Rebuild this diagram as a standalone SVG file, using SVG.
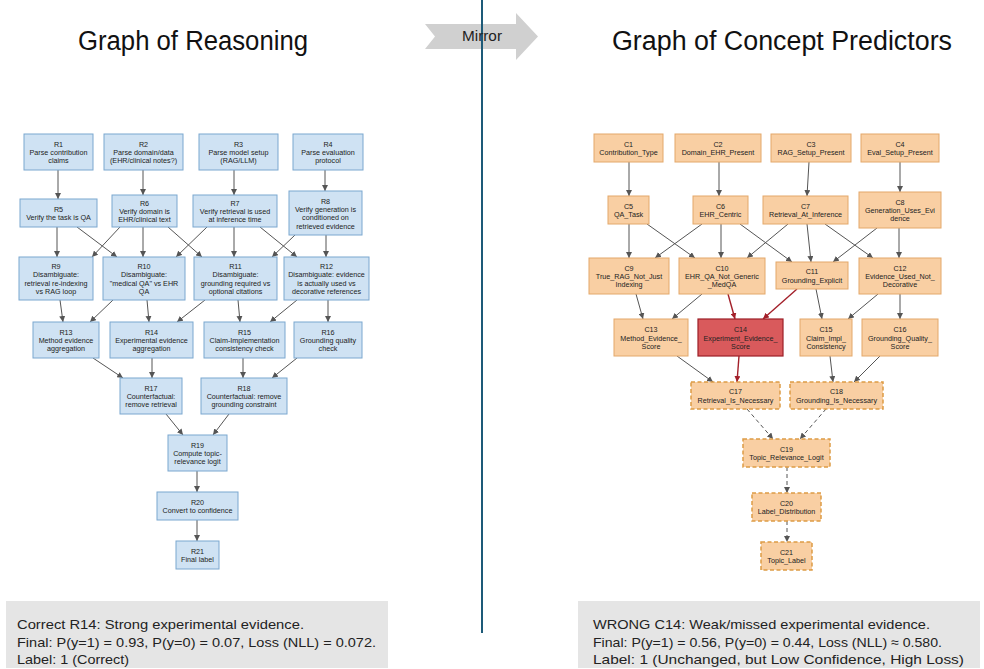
<svg xmlns="http://www.w3.org/2000/svg" width="984" height="669" viewBox="0 0 984 669">
<style>
.t{font-family:"Liberation Sans",Arial,sans-serif;font-size:7.2px;fill:#222;text-anchor:middle}
.rb{fill:#cfe2f3;stroke:#7ba7cf;stroke-width:1}
.cb{fill:#f9cfa3;stroke:#e3a86a;stroke-width:1}
.cd{fill:#f9cfa3;stroke:#dd9c45;stroke-width:1.5;stroke-dasharray:4 2.5}
.cr{fill:#d95a5c;stroke:#9c1f27;stroke-width:1.2}
.e{stroke:#555;stroke-width:1;fill:none;marker-end:url(#a)}
.ed{stroke:#555;stroke-width:1;fill:none;stroke-dasharray:4 3;marker-end:url(#a)}
.er{stroke:#a3202a;stroke-width:1.4;fill:none;marker-end:url(#ar)}
.title{font-family:"Liberation Sans",Arial,sans-serif;font-size:27px;fill:#111}
.note{font-family:"Liberation Sans",Arial,sans-serif;font-size:13.5px;fill:#222}
</style>
<defs>
<marker id="a" viewBox="0 0 6 6" refX="6" refY="3" markerWidth="6" markerHeight="6" markerUnits="userSpaceOnUse" orient="auto"><path d="M0,0 L6,3 L0,6 z" fill="#555"/></marker>
<marker id="ar" viewBox="0 0 6 6" refX="6" refY="3" markerWidth="6" markerHeight="6" markerUnits="userSpaceOnUse" orient="auto"><path d="M0,0 L6,3 L0,6 z" fill="#a3202a"/></marker>
</defs>

<g id="header">
<polygon points="425,24 435,36.5 425,49 516,49 516,60 538,36.5 516,13 516,24" fill="#d0d0d0"/>
<line x1="482" y1="0" x2="482" y2="633" stroke="#1d5a78" stroke-width="2"/>
<text x="482" y="41" font-family="Liberation Sans, Arial, sans-serif" font-size="14" fill="#222" text-anchor="middle" textLength="40" lengthAdjust="spacingAndGlyphs">Mirror</text>
<text class="title" x="78" y="50" textLength="230" lengthAdjust="spacingAndGlyphs">Graph of Reasoning</text>
<text class="title" x="612" y="50" textLength="340" lengthAdjust="spacingAndGlyphs">Graph of Concept Predictors</text>
</g>

<g id="connectors">
<line class="e" x1="58" y1="170" x2="58" y2="199"/>
<line class="e" x1="143" y1="170" x2="143" y2="195"/>
<line class="e" x1="234" y1="170" x2="234" y2="195"/>
<line class="e" x1="325" y1="170" x2="325" y2="191"/>
<line class="e" x1="57" y1="227" x2="57" y2="257"/>
<line class="e" x1="77" y1="227" x2="117" y2="257"/>
<line class="e" x1="120" y1="227" x2="92" y2="257"/>
<line class="e" x1="143" y1="227" x2="143" y2="257"/>
<line class="e" x1="168" y1="227" x2="202" y2="257"/>
<line class="e" x1="207" y1="227" x2="176" y2="257"/>
<line class="e" x1="234" y1="227" x2="234" y2="257"/>
<line class="e" x1="260" y1="227" x2="297" y2="257"/>
<line class="e" x1="295" y1="235" x2="272" y2="257"/>
<line class="e" x1="326" y1="235" x2="326" y2="257"/>
<line class="e" x1="60" y1="300" x2="63" y2="322"/>
<line class="e" x1="113" y1="300" x2="90" y2="322"/>
<line class="e" x1="147" y1="300" x2="149" y2="322"/>
<line class="e" x1="205" y1="300" x2="177" y2="322"/>
<line class="e" x1="238" y1="300" x2="240" y2="322"/>
<line class="e" x1="297" y1="300" x2="270" y2="322"/>
<line class="e" x1="328" y1="300" x2="328" y2="322"/>
<line class="e" x1="93" y1="358" x2="123" y2="378"/>
<line class="e" x1="152" y1="358" x2="152" y2="378"/>
<line class="e" x1="243" y1="358" x2="243" y2="378"/>
<line class="e" x1="297" y1="358" x2="272" y2="378"/>
<line class="e" x1="166" y1="414" x2="183" y2="435"/>
<line class="e" x1="229" y1="414" x2="213" y2="435"/>
<line class="e" x1="197" y1="471" x2="197" y2="492"/>
<line class="e" x1="197" y1="520" x2="197" y2="541"/>

<line class="e" x1="629" y1="162" x2="629" y2="196"/>
<line class="e" x1="719" y1="162" x2="719" y2="196"/>
<line class="e" x1="809" y1="162" x2="807" y2="196"/>
<line class="e" x1="900" y1="162" x2="900" y2="192"/>
<line class="e" x1="629" y1="224" x2="629" y2="258"/>
<line class="e" x1="647" y1="224" x2="695" y2="258"/>
<line class="e" x1="702" y1="224" x2="655" y2="258"/>
<line class="e" x1="721" y1="224" x2="721" y2="258"/>
<line class="e" x1="740" y1="224" x2="792" y2="262"/>
<line class="e" x1="788" y1="224" x2="747" y2="258"/>
<line class="e" x1="807" y1="224" x2="811" y2="262"/>
<line class="e" x1="825" y1="224" x2="873" y2="258"/>
<line class="e" x1="877" y1="228" x2="833" y2="262"/>
<line class="e" x1="899" y1="228" x2="899" y2="258"/>
<line class="e" x1="636" y1="294" x2="643" y2="319"/>
<line class="e" x1="702" y1="294" x2="672" y2="319"/>
<line class="er" x1="728" y1="294" x2="735" y2="319"/>
<line class="er" x1="797" y1="289" x2="763" y2="319"/>
<line class="e" x1="816" y1="289" x2="822" y2="319"/>
<line class="e" x1="878" y1="294" x2="848" y2="319"/>
<line class="e" x1="900" y1="294" x2="900" y2="319"/>
<line class="e" x1="677" y1="356" x2="713" y2="382"/>
<line class="er" x1="739" y1="356" x2="737" y2="382"/>
<line class="e" x1="830" y1="356" x2="833" y2="382"/>
<line class="e" x1="880" y1="356" x2="854" y2="382"/>
<line class="ed" x1="747" y1="409" x2="773" y2="439"/>
<line class="ed" x1="826" y1="409" x2="800" y2="439"/>
<line class="ed" x1="787" y1="467" x2="787" y2="493"/>
<line class="ed" x1="787" y1="521" x2="787" y2="542"/>
</g>

<g id="R1"><rect class="rb" x="24" y="134" width="69" height="36"/><text class="t" x="58.5" y="146.7"><tspan x="58.5">R1</tspan><tspan x="58.5" dy="8.3">Parse contribution</tspan><tspan x="58.5" dy="8.3">claims</tspan></text></g>
<g id="R2"><rect class="rb" x="104" y="134" width="79" height="36"/><text class="t" x="143.5" y="146.7"><tspan x="143.5">R2</tspan><tspan x="143.5" dy="8.3">Parse domain/data</tspan><tspan x="143.5" dy="8.3">(EHR/clinical notes?)</tspan></text></g>
<g id="R3"><rect class="rb" x="199" y="134" width="79" height="36"/><text class="t" x="238.5" y="146.7"><tspan x="238.5">R3</tspan><tspan x="238.5" dy="8.3">Parse model setup</tspan><tspan x="238.5" dy="8.3">(RAG/LLM)</tspan></text></g>
<g id="R4"><rect class="rb" x="293" y="134" width="70" height="36"/><text class="t" x="328" y="146.7"><tspan x="328">R4</tspan><tspan x="328" dy="8.3">Parse evaluation</tspan><tspan x="328" dy="8.3">protocol</tspan></text></g>
<g id="R5"><rect class="rb" x="20" y="199" width="77" height="28"/><text class="t" x="58.5" y="211.9"><tspan x="58.5">R5</tspan><tspan x="58.5" dy="8.3">Verify the task is QA</tspan></text></g>
<g id="R6"><rect class="rb" x="112" y="195" width="65" height="32"/><text class="t" x="144.5" y="205.7"><tspan x="144.5">R6</tspan><tspan x="144.5" dy="8.3">Verify domain is</tspan><tspan x="144.5" dy="8.3">EHR/clinical text</tspan></text></g>
<g id="R7"><rect class="rb" x="193" y="195" width="84" height="32"/><text class="t" x="235" y="205.7"><tspan x="235">R7</tspan><tspan x="235" dy="8.3">Verify retrieval is used</tspan><tspan x="235" dy="8.3">at inference time</tspan></text></g>
<g id="R8"><rect class="rb" x="289" y="191" width="73" height="44"/><text class="t" x="325.5" y="203.6"><tspan x="325.5">R8</tspan><tspan x="325.5" dy="8.3">Verify generation is</tspan><tspan x="325.5" dy="8.3">conditioned on</tspan><tspan x="325.5" dy="8.3">retrieved evidence</tspan></text></g>
<g id="R9"><rect class="rb" x="19" y="257" width="74" height="43"/><text class="t" x="56" y="269.1"><tspan x="56">R9</tspan><tspan x="56" dy="8.3">Disambiguate:</tspan><tspan x="56" dy="8.3">retrieval re-indexing</tspan><tspan x="56" dy="8.3">vs RAG loop</tspan></text></g>
<g id="R10"><rect class="rb" x="103" y="257" width="82" height="43"/><text class="t" x="144" y="269.1"><tspan x="144">R10</tspan><tspan x="144" dy="8.3">Disambiguate:</tspan><tspan x="144" dy="8.3">"medical QA" vs EHR</tspan><tspan x="144" dy="8.3">QA</tspan></text></g>
<g id="R11"><rect class="rb" x="194" y="257" width="83" height="43"/><text class="t" x="235.5" y="269.1"><tspan x="235.5">R11</tspan><tspan x="235.5" dy="8.3">Disambiguate:</tspan><tspan x="235.5" dy="8.3">grounding required vs</tspan><tspan x="235.5" dy="8.3">optional citations</tspan></text></g>
<g id="R12"><rect class="rb" x="284" y="257" width="85" height="43"/><text class="t" x="326.5" y="269.1"><tspan x="326.5">R12</tspan><tspan x="326.5" dy="8.3">Disambiguate: evidence</tspan><tspan x="326.5" dy="8.3">is actually used vs</tspan><tspan x="326.5" dy="8.3">decorative references</tspan></text></g>
<g id="R13"><rect class="rb" x="33" y="322" width="66" height="36"/><text class="t" x="66" y="334.7"><tspan x="66">R13</tspan><tspan x="66" dy="8.3">Method evidence</tspan><tspan x="66" dy="8.3">aggregation</tspan></text></g>
<g id="R14"><rect class="rb" x="110" y="322" width="83" height="36"/><text class="t" x="151.5" y="334.7"><tspan x="151.5">R14</tspan><tspan x="151.5" dy="8.3">Experimental evidence</tspan><tspan x="151.5" dy="8.3">aggregation</tspan></text></g>
<g id="R15"><rect class="rb" x="204" y="322" width="81" height="36"/><text class="t" x="244.5" y="334.7"><tspan x="244.5">R15</tspan><tspan x="244.5" dy="8.3">Claim-Implementation</tspan><tspan x="244.5" dy="8.3">consistency check</tspan></text></g>
<g id="R16"><rect class="rb" x="294" y="322" width="68" height="36"/><text class="t" x="328" y="334.7"><tspan x="328">R16</tspan><tspan x="328" dy="8.3">Grounding quality</tspan><tspan x="328" dy="8.3">check</tspan></text></g>
<g id="R17"><rect class="rb" x="120" y="378" width="62" height="36"/><text class="t" x="151" y="390.7"><tspan x="151">R17</tspan><tspan x="151" dy="8.3">Counterfactual:</tspan><tspan x="151" dy="8.3">remove retrieval</tspan></text></g>
<g id="R18"><rect class="rb" x="201" y="378" width="86" height="36"/><text class="t" x="244" y="390.7"><tspan x="244">R18</tspan><tspan x="244" dy="8.3">Counterfactual: remove</tspan><tspan x="244" dy="8.3">grounding constraint</tspan></text></g>
<g id="R19"><rect class="rb" x="168" y="435" width="59" height="36"/><text class="t" x="197.5" y="447.7"><tspan x="197.5">R19</tspan><tspan x="197.5" dy="8.3">Compute topic-</tspan><tspan x="197.5" dy="8.3">relevance logit</tspan></text></g>
<g id="R20"><rect class="rb" x="157" y="492" width="81" height="28"/><text class="t" x="197.5" y="504.9"><tspan x="197.5">R20</tspan><tspan x="197.5" dy="8.3">Convert to confidence</tspan></text></g>
<g id="R21"><rect class="rb" x="176" y="541" width="43" height="28"/><text class="t" x="197.5" y="553.9"><tspan x="197.5">R21</tspan><tspan x="197.5" dy="8.3">Final label</tspan></text></g>

<g id="C1"><rect class="cb" x="594" y="134" width="69" height="28"/><text class="t" x="628.5" y="146.9"><tspan x="628.5">C1</tspan><tspan x="628.5" dy="8.3">Contribution_Type</tspan></text></g>
<g id="C2"><rect class="cb" x="675" y="134" width="86" height="28"/><text class="t" x="718" y="146.9"><tspan x="718">C2</tspan><tspan x="718" dy="8.3">Domain_EHR_Present</tspan></text></g>
<g id="C3"><rect class="cb" x="771" y="134" width="80" height="28"/><text class="t" x="811" y="146.9"><tspan x="811">C3</tspan><tspan x="811" dy="8.3">RAG_Setup_Present</tspan></text></g>
<g id="C4"><rect class="cb" x="861" y="134" width="78" height="28"/><text class="t" x="900" y="146.9"><tspan x="900">C4</tspan><tspan x="900" dy="8.3">Eval_Setup_Present</tspan></text></g>
<g id="C5"><rect class="cb" x="608" y="196" width="41" height="28"/><text class="t" x="628.5" y="208.9"><tspan x="628.5">C5</tspan><tspan x="628.5" dy="8.3">QA_Task</tspan></text></g>
<g id="C6"><rect class="cb" x="693" y="196" width="55" height="28"/><text class="t" x="720.5" y="208.9"><tspan x="720.5">C6</tspan><tspan x="720.5" dy="8.3">EHR_Centric</tspan></text></g>
<g id="C7"><rect class="cb" x="763" y="196" width="85" height="28"/><text class="t" x="805.5" y="208.9"><tspan x="805.5">C7</tspan><tspan x="805.5" dy="8.3">Retrieval_At_Inference</tspan></text></g>
<g id="C8"><rect class="cb" x="859" y="192" width="82" height="36"/><text class="t" x="900" y="204.7"><tspan x="900">C8</tspan><tspan x="900" dy="8.3">Generation_Uses_Evi</tspan><tspan x="900" dy="8.3">dence</tspan></text></g>
<g id="C9"><rect class="cb" x="589" y="258" width="80" height="36"/><text class="t" x="629" y="270.7"><tspan x="629">C9</tspan><tspan x="629" dy="8.3">True_RAG_Not_Just</tspan><tspan x="629" dy="8.3">Indexing</tspan></text></g>
<g id="C10"><rect class="cb" x="679" y="258" width="86" height="36"/><text class="t" x="722" y="270.7"><tspan x="722">C10</tspan><tspan x="722" dy="8.3">EHR_QA_Not_Generic</tspan><tspan x="722" dy="8.3">_MedQA</tspan></text></g>
<g id="C11"><rect class="cb" x="776" y="262" width="72" height="27"/><text class="t" x="812" y="274.4"><tspan x="812">C11</tspan><tspan x="812" dy="8.3">Grounding_Explicit</tspan></text></g>
<g id="C12"><rect class="cb" x="859" y="258" width="82" height="36"/><text class="t" x="900" y="270.7"><tspan x="900">C12</tspan><tspan x="900" dy="8.3">Evidence_Used_Not_</tspan><tspan x="900" dy="8.3">Decorative</tspan></text></g>
<g id="C13"><rect class="cb" x="614" y="319" width="74" height="37"/><text class="t" x="651" y="332.2"><tspan x="651">C13</tspan><tspan x="651" dy="8.3">Method_Evidence_</tspan><tspan x="651" dy="8.3">Score</tspan></text></g>
<g id="C14"><rect class="cr" x="698" y="319" width="85" height="37"/><text class="t" x="740.5" y="332.2"><tspan x="740.5">C14</tspan><tspan x="740.5" dy="8.3">Experiment_Evidence_</tspan><tspan x="740.5" dy="8.3">Score</tspan></text></g>
<g id="C15"><rect class="cb" x="800" y="319" width="52" height="37"/><text class="t" x="826" y="332.2"><tspan x="826">C15</tspan><tspan x="826" dy="8.3">Claim_Impl_</tspan><tspan x="826" dy="8.3">Consistency</tspan></text></g>
<g id="C16"><rect class="cb" x="862" y="319" width="76" height="37"/><text class="t" x="900" y="332.2"><tspan x="900">C16</tspan><tspan x="900" dy="8.3">Grounding_Quality_</tspan><tspan x="900" dy="8.3">Score</tspan></text></g>
<g id="C17"><rect class="cd" x="691" y="382" width="89" height="27"/><text class="t" x="735.5" y="394.4"><tspan x="735.5">C17</tspan><tspan x="735.5" dy="8.3">Retrieval_Is_Necessary</tspan></text></g>
<g id="C18"><rect class="cd" x="790" y="382" width="93" height="27"/><text class="t" x="836.5" y="394.4"><tspan x="836.5">C18</tspan><tspan x="836.5" dy="8.3">Grounding_Is_Necessary</tspan></text></g>
<g id="C19"><rect class="cd" x="743" y="439" width="87" height="28"/><text class="t" x="786.5" y="451.9"><tspan x="786.5">C19</tspan><tspan x="786.5" dy="8.3">Topic_Relevance_Logit</tspan></text></g>
<g id="C20"><rect class="cd" x="752" y="493" width="69" height="28"/><text class="t" x="786.5" y="505.9"><tspan x="786.5">C20</tspan><tspan x="786.5" dy="8.3">Label_Distribution</tspan></text></g>
<g id="C21"><rect class="cd" x="761" y="542" width="51" height="28"/><text class="t" x="786.5" y="554.9"><tspan x="786.5">C21</tspan><tspan x="786.5" dy="8.3">Topic_Label</tspan></text></g>

<g id="note-left">
<rect x="6" y="601" width="382" height="67" fill="#e5e5e5"/>
<text class="note" x="17" y="629" textLength="287" lengthAdjust="spacingAndGlyphs">Correct R14: Strong experimental evidence.</text>
<text class="note" x="17" y="646.5" textLength="359" lengthAdjust="spacingAndGlyphs">Final: P(y=1) = 0.93, P(y=0) = 0.07, Loss (NLL) = 0.072.</text>
<text class="note" x="17" y="663.5" textLength="112" lengthAdjust="spacingAndGlyphs">Label: 1 (Correct)</text>
</g>
<g id="note-right">
<rect x="578" y="601" width="402" height="67" fill="#e5e5e5"/>
<text class="note" x="593" y="629" textLength="337" lengthAdjust="spacingAndGlyphs">WRONG C14: Weak/missed experimental evidence.</text>
<text class="note" x="593" y="646.5" textLength="349" lengthAdjust="spacingAndGlyphs">Final: P(y=1) = 0.56, P(y=0) = 0.44, Loss (NLL) ≈ 0.580.</text>
<text class="note" x="593" y="663.5" textLength="371" lengthAdjust="spacingAndGlyphs">Label: 1 (Unchanged, but Low Confidence, High Loss)</text>
</g>
</svg>
